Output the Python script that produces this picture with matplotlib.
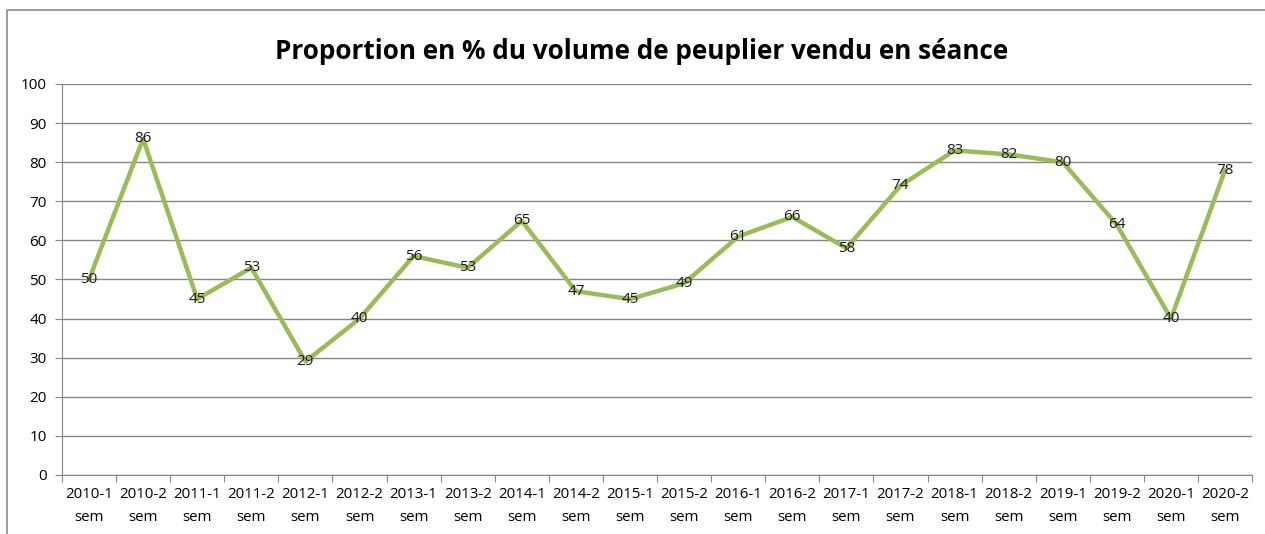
import matplotlib
matplotlib.use("Agg")
import matplotlib.pyplot as plt
from matplotlib.patches import Rectangle

# data
periods = ["2010-1", "2010-2", "2011-1", "2011-2", "2012-1", "2012-2",
           "2013-1", "2013-2", "2014-1", "2014-2", "2015-1", "2015-2",
           "2016-1", "2016-2", "2017-1", "2017-2", "2018-1", "2018-2",
           "2019-1", "2019-2", "2020-1", "2020-2"]
labels = [p + "\nsem" for p in periods]
values = [50, 86, 45, 53, 29, 40, 56, 53, 65, 47, 45, 49,
          61, 66, 58, 74, 83, 82, 80, 64, 40, 78]

plt.rcParams['font.family'] = ['Open Sans', 'DejaVu Sans']

fig = plt.figure(figsize=(12.65, 5.34), dpi=100)
ax = fig.add_axes([0.049, 0.1105, 0.9408, 0.7322])

# outer chart border (right and bottom edges fall outside the picture)
fig.patches.append(Rectangle((7 / 1265, -0.05), 1.05, 1 - 10 / 534 + 0.05,
                             transform=fig.transFigure, fill=False,
                             edgecolor='#8c8c8c', linewidth=1.2))

x = list(range(len(values)))
ax.plot(x, values, color='#9bbb59', linewidth=3.2, solid_joinstyle='round', zorder=3)
for xi, v in zip(x, values):
    ax.text(xi, v, str(v), ha='center', va='center', fontsize=11, color='#1a1a1a', zorder=4)

ax.set_xlim(-0.5, len(values) - 0.5)
ax.set_ylim(0, 100)
ax.set_yticks(range(0, 101, 10))
ax.yaxis.grid(True, color='#868686', linewidth=1)
ax.set_axisbelow(True)

# ticks on category boundaries, labels in the middle
ax.set_xticks([i - 0.5 for i in range(len(values) + 1)])
ax.set_xticklabels([])
ax.set_xticks(x, minor=True)
ax.set_xticklabels(labels, minor=True, fontsize=10.8, linespacing=1.65)
ax.tick_params(axis='x', which='major', length=5, color='#868686', direction='out')
ax.tick_params(axis='x', which='minor', length=0, pad=9)
ax.tick_params(axis='y', length=5, color='#868686', labelsize=11, pad=6)

for s in ['top', 'right']:
    ax.spines[s].set_visible(False)
for s in ['left', 'bottom']:
    ax.spines[s].set_color('#868686')

fig.text(0.507, 0.904, "Proportion en % du volume de peuplier vendu en séance",
         ha='center', va='center', fontsize=18.8, fontweight='bold')

fig.savefig("out.png", dpi=100)
